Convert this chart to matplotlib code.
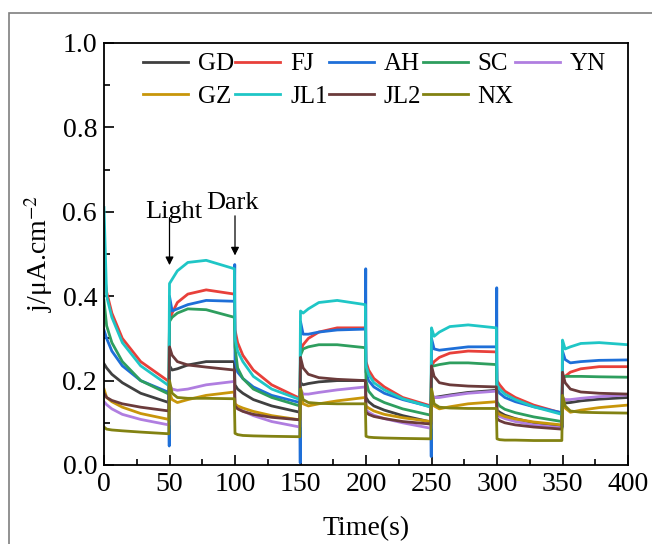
import numpy as np
import matplotlib
matplotlib.use("Agg")
import matplotlib.pyplot as plt
from matplotlib.patches import Rectangle

plt.rcParams["font.family"] = ["Liberation Serif", "DejaVu Serif"]
plt.rcParams["mathtext.fontset"] = "stix"

# sample times (s): each 50 s segment read at +0, +2, +6, +14, +28, +49.5
t = [0, 2, 6, 14, 28, 49.5, 50, 52, 56, 64, 78, 99.5,
     100, 102, 106, 114, 128, 149.5, 150, 152, 156, 164, 178, 199.5,
     200, 202, 206, 214, 228, 249.5, 250, 252, 256, 264, 278, 299.5,
     300, 302, 306, 314, 328, 349.5, 350, 352, 356, 364, 378, 400]

gd = [0.24, 0.23, 0.215, 0.195, 0.17, 0.148, 0.235, 0.225, 0.228, 0.237, 0.245, 0.245,
      0.19, 0.18, 0.17, 0.155, 0.14, 0.125, 0.195, 0.19, 0.193, 0.197, 0.2, 0.2,
      0.16, 0.15, 0.14, 0.13, 0.117, 0.102, 0.165, 0.16, 0.162, 0.166, 0.172, 0.177,
      0.13, 0.125, 0.118, 0.11, 0.1, 0.09, 0.15, 0.147, 0.148, 0.152, 0.156, 0.16]
fj = [0.46, 0.41, 0.36, 0.30, 0.245, 0.198, 0.345, 0.36, 0.385, 0.405, 0.415, 0.405,
      0.32, 0.29, 0.26, 0.225, 0.19, 0.158, 0.27, 0.285, 0.30, 0.315, 0.325, 0.325,
      0.245, 0.225, 0.205, 0.185, 0.16, 0.14, 0.235, 0.245, 0.255, 0.265, 0.27, 0.268,
      0.2, 0.19, 0.175, 0.16, 0.142, 0.123, 0.205, 0.21, 0.22, 0.228, 0.233, 0.233]
ah = [0.32, 0.30, 0.27, 0.235, 0.20, 0.172, 0.40, 0.365, 0.37, 0.38, 0.39, 0.388,
      0.25, 0.22, 0.205, 0.185, 0.165, 0.148, 0.34, 0.31, 0.31, 0.315, 0.32, 0.322,
      0.22, 0.2, 0.185, 0.17, 0.155, 0.138, 0.30, 0.275, 0.272, 0.275, 0.28, 0.28,
      0.18, 0.17, 0.16, 0.15, 0.138, 0.124, 0.27, 0.25, 0.242, 0.245, 0.248, 0.249]
sc = [0.39, 0.33, 0.29, 0.245, 0.20, 0.168, 0.34, 0.35, 0.36, 0.37, 0.368, 0.35,
      0.28, 0.23, 0.205, 0.18, 0.16, 0.14, 0.26, 0.275, 0.28, 0.285, 0.285, 0.278,
      0.2, 0.175, 0.16, 0.148, 0.133, 0.118, 0.235, 0.235, 0.238, 0.242, 0.242, 0.238,
      0.15, 0.14, 0.132, 0.124, 0.114, 0.103, 0.21, 0.21, 0.21, 0.21, 0.209, 0.208]
yn = [0.15, 0.143, 0.133, 0.12, 0.108, 0.095, 0.19, 0.18, 0.177, 0.18, 0.19, 0.198,
      0.14, 0.135, 0.128, 0.117, 0.103, 0.09, 0.18, 0.168, 0.168, 0.172, 0.178, 0.185,
      0.13, 0.125, 0.118, 0.11, 0.1, 0.087, 0.17, 0.16, 0.16, 0.164, 0.17, 0.175,
      0.12, 0.115, 0.11, 0.103, 0.095, 0.088, 0.16, 0.155, 0.155, 0.158, 0.162, 0.166]
gz = [0.18, 0.16, 0.15, 0.137, 0.122, 0.108, 0.17, 0.155, 0.148, 0.155, 0.165, 0.173,
      0.145, 0.14, 0.135, 0.127, 0.117, 0.107, 0.185, 0.145, 0.14, 0.145, 0.152, 0.16,
      0.14, 0.135, 0.128, 0.12, 0.112, 0.103, 0.18, 0.14, 0.133, 0.138, 0.145, 0.15,
      0.125, 0.12, 0.115, 0.109, 0.102, 0.095, 0.16, 0.135, 0.125, 0.13, 0.136, 0.142]
jl1 = [0.61, 0.40, 0.35, 0.29, 0.235, 0.188, 0.43, 0.44, 0.46, 0.48, 0.485, 0.465,
       0.30, 0.27, 0.245, 0.21, 0.18, 0.155, 0.365, 0.36, 0.37, 0.385, 0.39, 0.38,
       0.235, 0.215, 0.195, 0.178, 0.157, 0.137, 0.325, 0.305, 0.315, 0.328, 0.332, 0.325,
       0.19, 0.18, 0.168, 0.155, 0.138, 0.12, 0.296, 0.275, 0.28, 0.288, 0.29, 0.285]
jl2 = [0.17, 0.16, 0.153, 0.145, 0.137, 0.128, 0.28, 0.26, 0.245, 0.237, 0.232, 0.225,
       0.14, 0.133, 0.127, 0.12, 0.113, 0.107, 0.255, 0.23, 0.215, 0.207, 0.203, 0.2,
       0.125, 0.12, 0.115, 0.11, 0.103, 0.097, 0.235, 0.21, 0.195, 0.19, 0.187, 0.185,
       0.11, 0.105, 0.1, 0.095, 0.09, 0.085, 0.22, 0.195, 0.18, 0.173, 0.17, 0.168]
nx = [0.09, 0.085, 0.083, 0.081, 0.078, 0.074, 0.20, 0.17, 0.16, 0.158, 0.158, 0.157,
      0.075, 0.072, 0.07, 0.069, 0.068, 0.067, 0.18, 0.155, 0.148, 0.146, 0.145, 0.145,
      0.068, 0.066, 0.065, 0.064, 0.063, 0.062, 0.18, 0.145, 0.137, 0.135, 0.134, 0.134,
      0.062, 0.06, 0.059, 0.059, 0.058, 0.058, 0.165, 0.14, 0.128, 0.125, 0.124, 0.123]

# AH switching spikes just before each light/dark change
ah_spike_t = [49.8, 99.8, 149.8, 199.8, 249.8, 299.8, 349.8]
ah_spike_v = [0.045, 0.475, 0.005, 0.465, 0.02, 0.42, 0.09]

names = ["GD", "FJ", "AH", "SC", "YN", "GZ", "JL1", "JL2", "NX"]
colors = ["#404040", "#e8403a", "#1e6fd8", "#2e9e5e", "#b07ee0",
          "#c8960a", "#1fc6c6", "#6b3b3b", "#828212"]
series = [gd, fj, ah, sc, yn, gz, jl1, jl2, nx]

fig = plt.figure(figsize=(6.52, 5.44), dpi=100)
ax = fig.add_axes([104 / 652, 1 - 465 / 544, 524 / 652, 422 / 544])

# outer grey frame of the original picture
fig.patches.append(Rectangle((9 / 652, -0.05), 650 / 652, 1 - 13 / 544 + 0.05,
                             transform=fig.transFigure, fill=False,
                             edgecolor="#7f7f7f", lw=1.2))

handles = {}
for name, col, vals in zip(names, colors, series):
    tt = np.array(t, dtype=float)
    vv = np.array(vals, dtype=float)
    if name == "AH":
        tt = np.concatenate([tt, ah_spike_t])
        vv = np.concatenate([vv, ah_spike_v])
        order = np.argsort(tt, kind="stable")
        tt, vv = tt[order], vv[order]
    line, = ax.plot(tt, vv, color=col, lw=2.0, label=name)
    handles[name] = line

ax.set_xlim(0, 400)
ax.set_ylim(0, 1.0)
ax.set_xticks(np.arange(0, 401, 50))
ax.set_xticks(np.arange(25, 400, 50), minor=True)
ax.set_yticks(np.arange(0, 1.01, 0.2))
ax.set_yticks(np.arange(0.1, 1.0, 0.2), minor=True)
ax.yaxis.set_major_formatter(matplotlib.ticker.FormatStrFormatter("%.1f"))
ax.tick_params(which="both", direction="in", top=False, right=False, labelsize=20, width=1.2)
ax.tick_params(which="major", length=7)
ax.tick_params(which="minor", length=4)
ax.tick_params(axis="x", pad=5)
ax.tick_params(axis="y", pad=5)
for sp in ax.spines.values():
    sp.set_linewidth(1.3)

ax.set_xlabel("Time(s)", fontsize=20, labelpad=14)
ax.set_ylabel("j/μA.cm$^{-2}$", fontsize=20, labelpad=5)

leg_order = ["GD", "GZ", "FJ", "JL1", "AH", "JL2", "SC", "NX", "YN"]
ax.legend([handles[n] for n in leg_order], leg_order, ncol=5, frameon=False,
          loc="upper left", bbox_to_anchor=(0.055, 1.0), fontsize=18,
          handlelength=1.8, handletextpad=0.4, columnspacing=0.05,
          labelspacing=0.4, borderaxespad=0)

ax.annotate("", xy=(50, 0.467), xytext=(50, 0.593),
            arrowprops=dict(arrowstyle="-|>", color="black", lw=0.9,
                            mutation_scale=12))
ax.annotate("", xy=(100, 0.49), xytext=(100, 0.597),
            arrowprops=dict(arrowstyle="-|>", color="black", lw=0.9,
                            mutation_scale=12))
ax.text(53.4, 0.60, "Light", fontsize=19, ha="center", va="center")
ax.text(97.7, 0.621, "Dark", fontsize=19, ha="center", va="center")

fig.savefig("out.png", dpi=100)
